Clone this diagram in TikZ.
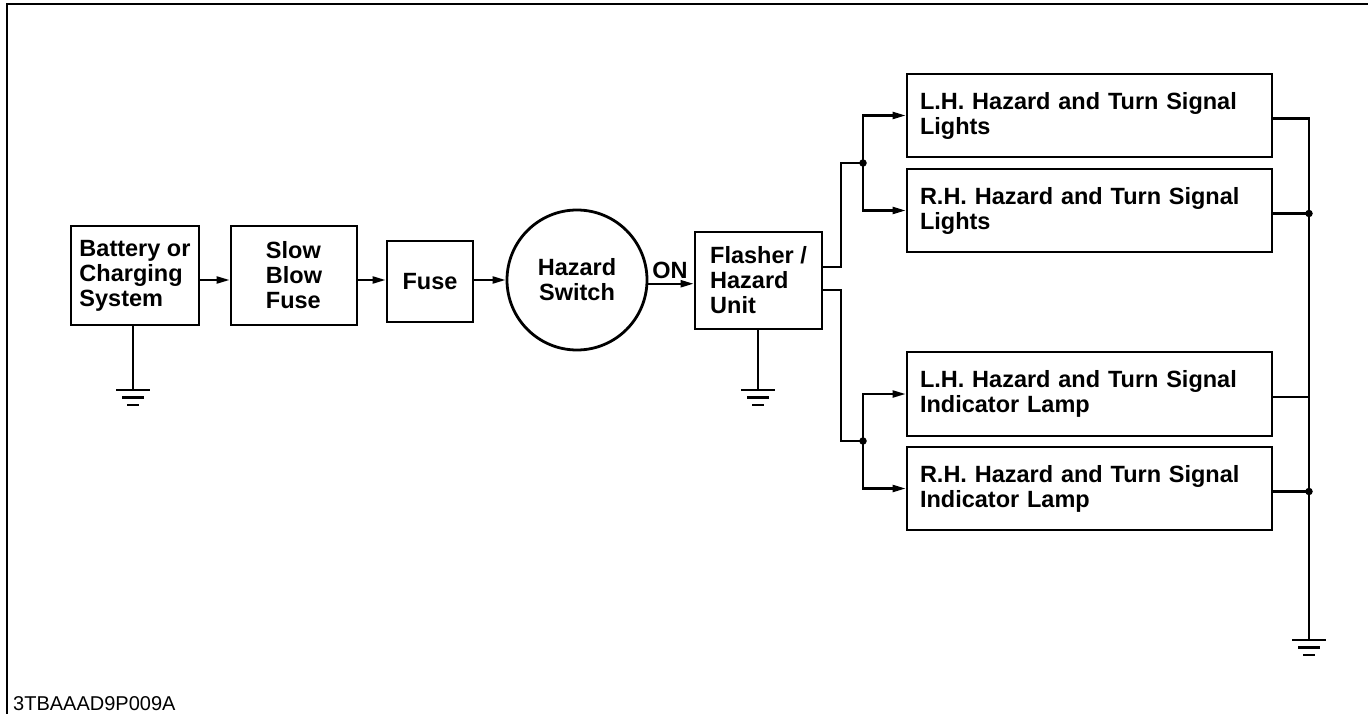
\documentclass[tikz,border=0pt]{standalone}
\usepackage{fontspec}
\setmainfont{Liberation Sans}
\usetikzlibrary{arrows.meta,calc}
\begin{document}
\begin{tikzpicture}[x=1pt,y=-1pt,
  box/.style={draw,line width=2.8pt,font=\fontsize{23.5}{25}\selectfont\bfseries,align=left,inner sep=0pt},
  conn/.style={line width=2.2pt},
  arr/.style={conn,-{Triangle[length=13pt,width=7pt]}},
  dot/.style={circle,fill,inner sep=0pt,minimum size=7.5pt},
  gnd/.style={line width=2.6pt},
  ground/.pic={\draw[gnd] (-17,0) -- (17,0) (-11,7.5) -- (11,7.5) (-6,15) -- (6,15);}
]
\useasboundingbox (0,0) rectangle (1368,714);
\draw[line width=2.6pt] (7,714) -- (7,4) -- (1368,4);

% main chain
\node[box,minimum width=128,minimum height=99] (bat) at (135,275.5) {Battery or\\Charging\\System};
\node[box,minimum width=126,minimum height=99] (slow) at (294,275.5) {Slow\\Blow\\Fuse};
\node[box,minimum width=86,minimum height=81] (fuse) at (430,281.5) {Fuse};
\node[box,circle,align=center,minimum size=140] (sw) at (577,280) {Hazard\\Switch};
\node[box,minimum width=127,minimum height=97] (flash) at (758.5,280.5) {Flasher /\\Hazard\\Unit};
\node[font=\fontsize{23.5}{25}\selectfont\bfseries,inner sep=0pt] (on) at (670,270) {ON};

% right boxes
\node[box,text width=339pt,inner xsep=13pt,minimum height=83] (r1) at (1089.5,115.5) {L.H. Hazard and Turn Signal\\Lights};
\node[box,text width=339pt,inner xsep=13pt,minimum height=83] (r2) at (1089.5,210.5) {R.H. Hazard and Turn Signal\\Lights};
\node[box,text width=339pt,inner xsep=13pt,minimum height=84] (r3) at (1089.5,394) {L.H. Hazard and Turn Signal\\Indicator Lamp};
\node[box,text width=339pt,inner xsep=13pt,minimum height=83] (r4) at (1089.5,488.5) {R.H. Hazard and Turn Signal\\Indicator Lamp};

% helper coordinates
\coordinate (main) at (0,280);
\coordinate (s1) at (841,267);
\coordinate (s2) at (841,290);
\coordinate (j1) at (863,163);
\coordinate (j2) at (863,441);
\coordinate (gB) at (133,390);
\coordinate (gF) at (758,390);
\coordinate (gR) at (1309,640);
\coordinate (o1) at ([yshift=-3pt]r1.east);
\coordinate (o2) at ([yshift=-3pt]r2.east);
\coordinate (o3) at ([yshift=-3pt]r3.east);
\coordinate (o4) at ([yshift=-3pt]r4.east);

% connectors
\draw[arr] (bat.east |- main) -- (slow.west |- main);
\draw[arr] (slow.east |- main) -- (fuse.west |- main);
\draw[arr] (fuse.east |- main) -- (sw.west);
\draw[arr] (sw.-3.3) -- (flash.west |- sw.-3.3);

\draw[conn] (flash.east |- s1) -- (s1) |- (j1);
\draw[arr] (j1) |- (r1.west);
\draw[arr] (j1) |- (r2.west);
\draw[conn] (flash.east |- s2) -- (s2) |- (j2);
\draw[arr] (j2) |- (r3.west);
\draw[arr] (j2) |- (r4.west);
\node[dot] (d1) at (j1) {};
\node[dot] (d2) at (j2) {};

\draw[conn] (o1) -| (gR);
\draw[conn] (o2) -- (o2 -| gR);
\draw[conn] (o3) -- (o3 -| gR);
\draw[conn] (o4) -- (o4 -| gR);
\node[dot] (d3) at (o2 -| gR) {};
\node[dot] (d4) at (o4 -| gR) {};

% grounds
\draw[conn] (bat.south -| gB) -- (gB);
\pic at (gB) {ground};
\draw[conn] (flash.south -| gF) -- (gF);
\pic at (gF) {ground};
\pic at (gR) {ground};

\node[font=\fontsize{20}{22}\selectfont,anchor=base west,inner sep=0pt] (code) at (13,710) {3TBAAAD9P009A};
\end{tikzpicture}
\end{document}
